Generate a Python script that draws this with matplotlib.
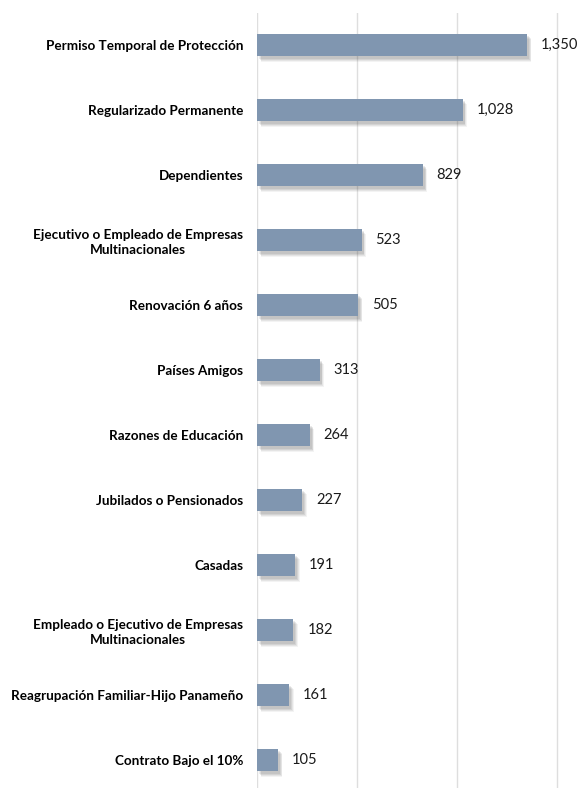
import matplotlib
matplotlib.use("Agg")
import matplotlib.pyplot as plt
import matplotlib.patheffects as pe

categories = [
    "Permiso Temporal de Protección",
    "Regularizado Permanente",
    "Dependientes",
    "Ejecutivo o Empleado de Empresas\nMultinacionales",
    "Renovación 6 años",
    "Países Amigos",
    "Razones de Educación",
    "Jubilados o Pensionados",
    "Casadas",
    "Empleado o Ejecutivo de Empresas\nMultinacionales",
    "Reagrupación Familiar-Hijo Panameño",
    "Contrato Bajo el 10%",
]
values = [1350, 1028, 829, 523, 505, 313, 264, 227, 191, 182, 161, 105]
grid_ticks = [0, 500, 1000, 1500]

W, H = 580, 788
fig = plt.figure(figsize=(W / 100, H / 100), dpi=100)
left = 257 / W
top_px = 12.5
bottom_px = 792.5
ax = fig.add_axes([left, (H - bottom_px) / H, 1 - left, (bottom_px - top_px) / H])

y = list(range(len(categories)))
bars = ax.barh(y, values, height=0.35, color="#8096b0", zorder=3)
shadow = [pe.SimplePatchShadow(offset=(dx, dy), shadow_rgbFace="#404040", alpha=a)
          for dx, dy, a in [(3.2, -3.8, 0.06), (2.6, -3.2, 0.08), (2.0, -2.6, 0.10), (1.4, -2.0, 0.10)]]
for b in bars:
    b.set_path_effects(shadow + [pe.Normal()])

ax.set_ylim(len(categories) - 0.5, -0.5)
ax.set_xlim(0, 1615)
ax.set_xticks(grid_ticks)
ax.xaxis.grid(True, color="#dedede", linewidth=1.0, zorder=0)
ax.tick_params(axis="x", length=0, labelbottom=False)
ax.tick_params(axis="y", length=0, pad=10)
ax.set_yticks(y)
ax.set_yticklabels(categories, fontfamily="Lato", fontweight="bold", fontsize=9.7,
                   multialignment="center", linespacing=1.3)
for s in ax.spines.values():
    s.set_visible(False)

for yi, v in zip(y, values):
    ax.annotate(f"{v:,}", (v, yi), xytext=(10, 0), textcoords="offset points",
                va="center", ha="left", fontsize=10.5, fontfamily="Lato", color="#1a1a1a")

fig.savefig("out.png", dpi=100)
